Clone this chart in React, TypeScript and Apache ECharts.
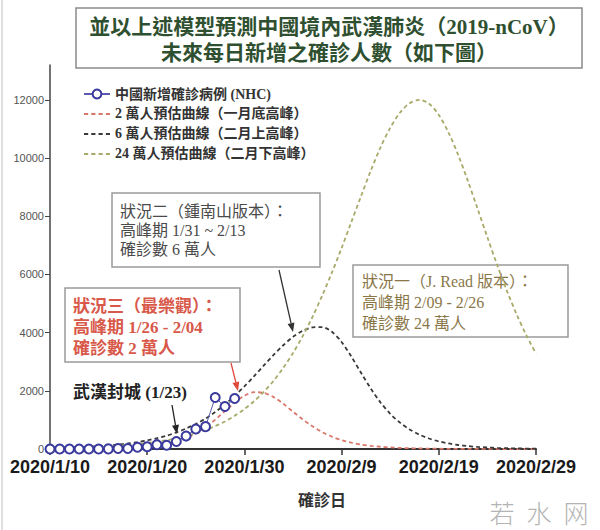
import React, { useEffect, useRef } from "react";
import * as echarts from "echarts";

// ---- data ----
const dates = [
  "2020/1/10","2020/1/11","2020/1/12","2020/1/13","2020/1/14","2020/1/15","2020/1/16","2020/1/17","2020/1/18","2020/1/19",
  "2020/1/20","2020/1/21","2020/1/22","2020/1/23","2020/1/24","2020/1/25","2020/1/26","2020/1/27","2020/1/28","2020/1/29",
  "2020/1/30","2020/1/31","2020/2/1","2020/2/2","2020/2/3","2020/2/4","2020/2/5","2020/2/6","2020/2/7","2020/2/8",
  "2020/2/9","2020/2/10","2020/2/11","2020/2/12","2020/2/13","2020/2/14","2020/2/15","2020/2/16","2020/2/17","2020/2/18",
  "2020/2/19","2020/2/20","2020/2/21","2020/2/22","2020/2/23","2020/2/24","2020/2/25","2020/2/26","2020/2/27","2020/2/28",
  "2020/2/29"
];

// NHC reported daily new confirmed cases (1/10 - 1/29)
const nhcCases = [0, 0, 0, 0, 0, 1, 4, 17, 17, 59, 77, 149, 131, 259, 444, 688, 769, 1771, 1459, 1737];

// 2萬人 scenario (peak end of Jan)
const red2wan = [
  1, 2, 3, 5, 8, 11, 17, 25, 38, 56,
  84, 124, 181, 265, 380, 541, 751, 1010, 1304, 1596,
  1833, 1953, 1929, 1784, 1554, 1285, 1017, 781, 580, 424,
  304, 218, 154, 109, 77, 54, 38, 27, 19, 13,
  9, 6, 4, 3, 2, 1, 1, 0, 0, 0, 0
];

// 6萬人 scenario (peak early Feb)
const black6wan = [
  32, 40, 50, 62, 78, 98, 122, 153, 191, 238,
  297, 370, 458, 571, 705, 860, 1047, 1271, 1533, 1827,
  2152, 2504, 2872, 3232, 3567, 3854, 4064, 4181, 4190, 4030,
  3680, 3180, 2620, 2080, 1600, 1211, 908, 672, 494, 361,
  262, 190, 138, 100, 72, 52, 38, 27, 20, 14, 10
];

// 24萬人 scenario (peak late Feb)
const green24wan = [
  30, 36, 44, 54, 65, 79, 96, 116, 141, 171,
  207, 251, 304, 368, 445, 538, 652, 787, 948, 1143,
  1372, 1645, 1967, 2345, 2790, 3300, 3879, 4538, 5270, 6061,
  6908, 7800, 8690, 9565, 10364, 11037, 11560, 11887, 12000, 11870,
  11484, 10878, 10102, 9208, 8248, 7277, 6331, 5446, 4634, 3912, 3280
];

const seriesNames = [
  "中國新增確診病例 (NHC)",
  "2 萬人預估曲線（一月底高峰）",
  "6 萬人預估曲線（二月上高峰）",
  "24 萬人預估曲線（二月下高峰）",
];
const seriesColors = ["#3a3a9c", "#d9776b", "#3a3a3a", "#a8aa68"];

const titleLines = [
  "並以上述模型預測中國境內武漢肺炎（2019-nCoV）",
  "未來每日新增之確診人數（如下圖）",
];
const box2Lines = ["狀況二（鍾南山版本）：", "高峰期 1/31 ~ 2/13", "確診數 6 萬人"];
const box3Lines = ["狀況三（最樂觀）：", "高峰期 1/26 - 2/04", "確診數 2 萬人"];
const box1Lines = ["狀況一（J. Read 版本）：", "高峰期 2/09 - 2/26", "確診數 24 萬人"];
const lockdownLabel = "武漢封城 (1/23)";
const xAxisName = "確診日";
const watermark = ["若", "水", "网"];

const CJK = "'Noto Sans CJK TC', 'Noto Sans CJK SC', sans-serif";
const MIX = "'Liberation Serif', 'Noto Sans CJK TC', serif";
const DASH_ICON = "path://M0,0h4v2h-4z M7,0h4v2h-4z M14,0h4v2h-4z M21,0h4v2h-4z";

function arrow(x1: number, y1: number, x2: number, y2: number, color: string) {
  const ang = Math.atan2(y2 - y1, x2 - x1);
  const L = 9, W = 3.5;
  const bx = x2 - L * Math.cos(ang), by = y2 - L * Math.sin(ang);
  const px = -Math.sin(ang) * W, py = Math.cos(ang) * W;
  return [
    { type: "line", shape: { x1, y1, x2: bx, y2: by }, style: { stroke: color, lineWidth: 1.3 } },
    { type: "polygon", shape: { points: [[x2, y2], [bx + px, by + py], [bx - px, by - py]] }, style: { fill: color } },
  ];
}

function textBlock(lines: string[], x: number, y0: number, gap: number, size: number, color: string, bold: boolean) {
  return lines.map((t, i) => ({
    type: "text",
    x,
    y: y0 + i * gap,
    style: { text: t, fill: color, font: `${bold ? "bold " : ""}${size}px ${MIX}`, textVerticalAlign: "middle", textAlign: "left" },
  }));
}

export default function App() {
  const ref = useRef<HTMLDivElement>(null);
  useEffect(() => {
    if (!ref.current) return;
    const chart = echarts.init(ref.current, undefined, { renderer: "svg" });
    const dash = [4, 3];
    const option: any = {
      animation: false,
      backgroundColor: "#ffffff",
      grid: { left: 50, right: 64, top: 65, bottom: 81 },
      legend: {
        orient: "vertical",
        left: 78,
        top: 82,
        itemWidth: 26,
        itemHeight: 11,
        itemGap: 6,
        selectedMode: false,
        data: seriesNames.map((n, i) =>
          i === 0 ? { name: n } : { name: n, icon: DASH_ICON, itemStyle: { color: seriesColors[i] } }
        ),
        textStyle: { fontFamily: MIX, fontSize: 14, color: "#333", fontWeight: "bold" },
      },
      xAxis: {
        type: "category",
        data: dates,
        boundaryGap: false,
        axisLine: { lineStyle: { color: "#333", width: 2 } },
        axisTick: { interval: 9, length: 6, lineStyle: { color: "#333", width: 1.5 } },
        axisLabel: {
          interval: 9,
          margin: 9,
          fontSize: 18,
          fontWeight: "bold",
          fontFamily: "'Liberation Sans', Arial, sans-serif",
          color: "#1a1a1a",
        },
        splitLine: { show: false },
      },
      yAxis: {
        type: "value",
        min: 0,
        max: 13200,
        interval: 2000,
        axisLine: { show: true, lineStyle: { color: "#444", width: 1.5 } },
        axisTick: { show: true, length: 5, lineStyle: { color: "#444" } },
        axisLabel: {
          fontSize: 11, color: "#555", margin: 6, showMaxLabel: false,
          fontFamily: "'Liberation Sans', Arial, sans-serif",
          formatter: (v: number) => String(v),
        },
        splitLine: { show: false },
      },
      series: [
        {
          name: seriesNames[1], type: "line", data: red2wan, symbol: "none", smooth: 0.3, z: 3,
          lineStyle: { color: seriesColors[1], width: 1.8, type: dash },
          itemStyle: { color: seriesColors[1] },
          emphasis: { disabled: true },
        },
        {
          name: seriesNames[2], type: "line", data: black6wan, symbol: "none", smooth: 0.3, z: 3,
          lineStyle: { color: seriesColors[2], width: 1.8, type: dash },
          itemStyle: { color: seriesColors[2] },
          emphasis: { disabled: true },
        },
        {
          name: seriesNames[3], type: "line", data: green24wan, symbol: "none", smooth: 0.3, z: 3,
          lineStyle: { color: seriesColors[3], width: 1.8, type: dash },
          itemStyle: { color: seriesColors[3] },
          emphasis: { disabled: true },
        },
        {
          name: seriesNames[0], type: "line", data: nhcCases, symbol: "emptyCircle", symbolSize: 9, z: 5,
          showAllSymbol: true,
          lineStyle: { color: "#5a5ab0", width: 1 },
          itemStyle: { color: seriesColors[0], borderWidth: 1.6 },
          emphasis: { disabled: true },
        },
      ],
      graphic: [
        { type: "line", shape: { x1: 2, y1: 0, x2: 2, y2: 530 }, style: { stroke: "#d4d4d4", lineWidth: 1.5 } },
        // title box
        { type: "rect", shape: { x: 76, y: 8, width: 506, height: 60 }, style: { fill: "#fff", stroke: "#8a8a8a", lineWidth: 1.5 } },
        ...titleLines.map((t, i) => ({
          type: "text", x: 329, y: 27 + i * 26,
          style: { text: t, fill: "#2f5030", font: `bold 21px ${MIX}`, textAlign: "center", textVerticalAlign: "middle" },
        })),
        // box 2 (black)
        { type: "rect", shape: { x: 112, y: 193, width: 208, height: 74 }, style: { fill: "#fff", stroke: "#9a9a9a", lineWidth: 1.5 } },
        ...textBlock(box2Lines, 120, 211, 19, 16, "#4a4a4a", false),
        // box 3 (red)
        { type: "rect", shape: { x: 65, y: 288, width: 175, height: 74 }, style: { fill: "#fff", stroke: "#9a9a9a", lineWidth: 1.5 } },
        ...textBlock(box3Lines, 73, 306, 21, 17, "#d8584a", true),
        // box 1 (J. Read)
        { type: "rect", shape: { x: 353, y: 265, width: 215, height: 72 }, style: { fill: "none", stroke: "#9a9a9a", lineWidth: 1.5 } },
        ...textBlock(box1Lines, 362, 281, 21, 16, "#8a7748", false),
        // arrows
        ...arrow(279, 270, 293, 332, "#333"),
        ...arrow(231, 363, 238, 391, "#e0483a"),
        ...arrow(172, 405, 177, 434, "#222"),
        {
          type: "text", x: 73, y: 392,
          style: { text: lockdownLabel, fill: "#222", font: `bold 17px ${MIX}`, textVerticalAlign: "middle" },
        },
        {
          type: "text", x: 322, y: 499,
          style: { text: xAxisName, fill: "#333", font: `bold 16px ${CJK}`, textAlign: "center", textVerticalAlign: "middle" },
        },
        ...watermark.map((c, i) => ({
          type: "text", x: 502 + i * 37, y: 512,
          style: { text: c, fill: "#b4b4b4", font: `300 25px ${CJK}`, textAlign: "center", textVerticalAlign: "middle" },
        })),
      ],
    };
    chart.setOption(option);
    return () => chart.dispose();
  }, []);
  return <div ref={ref} style={{ position: "fixed", left: 0, top: 0, width: 600, height: 530 }} />;
}
